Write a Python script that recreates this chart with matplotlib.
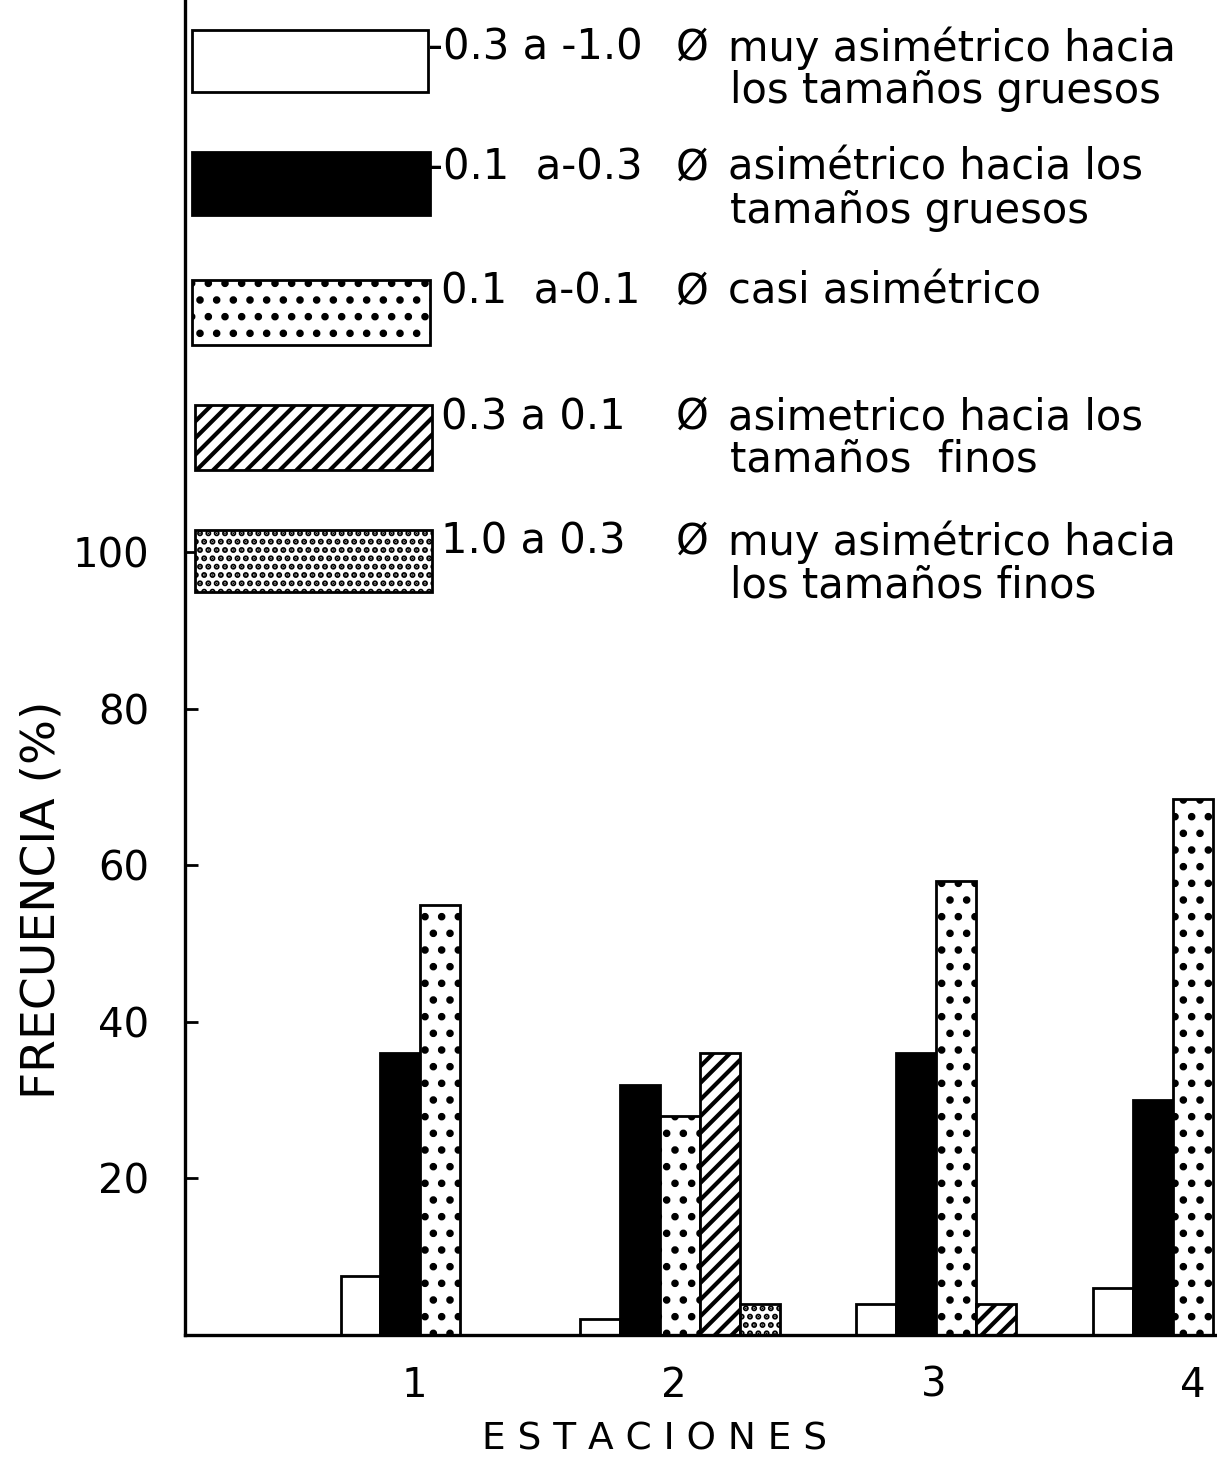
import matplotlib
matplotlib.use("Agg")
import matplotlib.pyplot as plt
from matplotlib.patches import Rectangle
import numpy as np

# ---------------- data ----------------
stations = [1, 2, 3, 4]
station_labels = ["1", "2", "3", "4"]
muy_gruesos = [7.5, 2.0, 4.0, 6.0]     # -0.3 a -1.0
gruesos = [36.0, 32.0, 36.0, 30.0]      # -0.1 a -0.3
casi = [55.0, 28.0, 58.0, 68.5]         # 0.1 a -0.1
finos = [0.0, 36.0, 4.0, 0.0]           # 0.3 a 0.1
muy_finos = [0.0, 4.0, 0.0, 0.0]        # 1.0 a 0.3
yticks = [20, 40, 60, 80, 100]

series = [muy_gruesos, gruesos, casi, finos, muy_finos]
ranges = ["-0.3 a -1.0", "-0.1  a-0.3", "0.1  a-0.1", "0.3 a 0.1", "1.0 a 0.3"]
desc1 = ["muy asimétrico hacia", "asimétrico hacia los", "casi asimétrico",
         "asimetrico hacia los", "muy asimétrico hacia"]
desc2 = ["los tamaños gruesos", "tamaños gruesos", "", "tamaños  finos",
         "los tamaños finos"]

# ---------------- style ----------------
W, H = 1217, 1464
plt.rcParams["font.family"] = ["DejaVu Sans"]
plt.rcParams["hatch.linewidth"] = 3.0
styles = [
    dict(facecolor="white", hatch=None),
    dict(facecolor="black", hatch=None),
    dict(facecolor="white", hatch="."),
    dict(facecolor="white", hatch="//"),
    dict(facecolor="white", hatch=".."),
]
bar_w = 0.154
group_shift = [-0.35, 0.15, 0.05, -1.0]   # in bar widths (layout)
FS = 30

fig = plt.figure(figsize=(W / 100, H / 100), dpi=100)
ax_left = 185 / W
ax_bottom = (H - 1335) / H
ax = fig.add_axes([ax_left, ax_bottom, 1 - ax_left, 1335 / H])

for si, st in enumerate(stations):
    present = [k for k in range(len(series)) if series[k][si] > 0]
    n = len(present)
    for j, k in enumerate(present):
        x = st + (j - (n - 1) / 2 + group_shift[si]) * bar_w
        ax.bar(x, series[k][si], width=bar_w, facecolor=styles[k]["facecolor"],
               hatch=styles[k]["hatch"], edgecolor="black", linewidth=2.0,
               align="center", zorder=2)

ax.set_xlim(0.116, 4.092)
ax.set_ylim(0, 170.6)
ax.spines["top"].set_visible(False)
ax.spines["right"].set_visible(False)
ax.spines["left"].set_linewidth(2.4)
ax.spines["bottom"].set_linewidth(2.4)
ax.set_yticks(yticks)
ax.set_yticklabels([str(v) for v in yticks], fontsize=29)
ax.tick_params(axis="y", direction="in", length=9, width=2.0, pad=26)
ax.set_xticks(stations)
ax.set_xticklabels(station_labels, fontsize=29)
ax.tick_params(axis="x", length=0, pad=22)


def fx(px):
    return px / W


def fy(py):
    return 1 - py / H


fig.text(fx(655), fy(1440), "E S T A C I O N E S", fontsize=27,
         ha="center", va="center")
fig.text(fx(42), fy(900), "FRECUENCIA (%)", fontsize=34, rotation=90,
         ha="center", va="center")

# ---------------- legend (manual) ----------------
boxes = [(192, 428, 30, 92), (192, 430, 152, 215), (192, 430, 280, 345),
         (195, 432, 405, 470), (195, 432, 530, 592)]
line1_y = [48, 168, 292, 417, 542]
range_x = [428, 428, 441, 441, 441]
for k, (x0, x1, y0, y1) in enumerate(boxes):
    r = Rectangle((fx(x0), fy(y1)), fx(x1) - fx(x0), fy(y0) - fy(y1),
                  transform=fig.transFigure, facecolor=styles[k]["facecolor"],
                  hatch=styles[k]["hatch"], edgecolor="black", linewidth=2.0)
    fig.add_artist(r)
    fig.text(fx(range_x[k]), fy(line1_y[k]), ranges[k], fontsize=FS,
             ha="left", va="center")
    fig.text(fx(692), fy(line1_y[k]), "Ø", fontsize=FS, ha="center",
             va="center")
    fig.text(fx(728), fy(line1_y[k]), desc1[k], fontsize=FS, ha="left",
             va="center")
    if desc2[k]:
        fig.text(fx(730), fy(line1_y[k] + 43), desc2[k], fontsize=FS,
                 ha="left", va="center")

fig.savefig("out.png", dpi=100)
